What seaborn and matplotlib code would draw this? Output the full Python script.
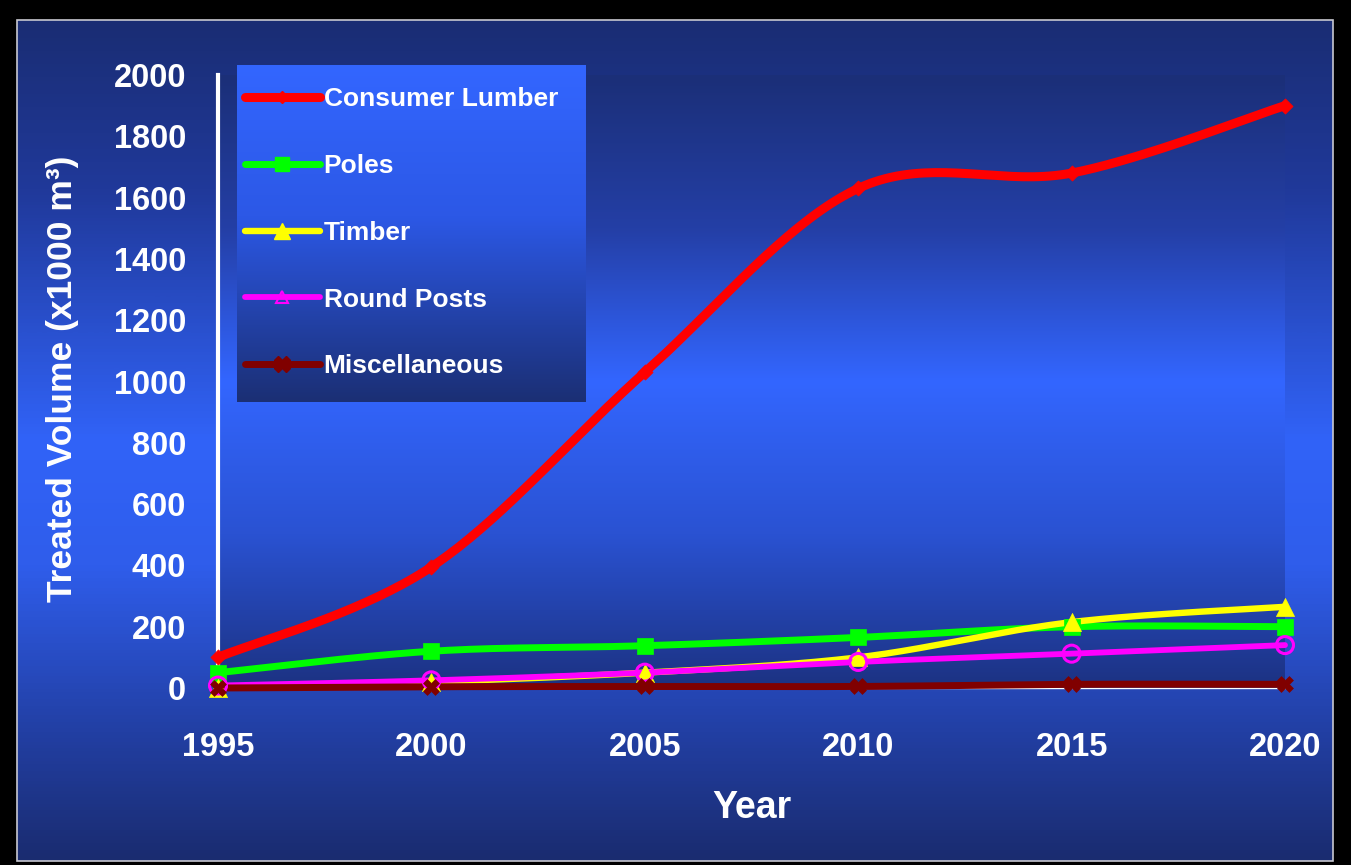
import numpy as np
import pandas as pd
import matplotlib
matplotlib.use("Agg")
import matplotlib.pyplot as plt
import seaborn as sns
from matplotlib.colors import LinearSegmentedColormap
from matplotlib.lines import Line2D
from matplotlib.patches import Rectangle

# ---------------- data ----------------
years = [1995, 2000, 2005, 2010, 2015, 2020]
consumer_lumber = [100, 395, 1030, 1630, 1680, 1900]
poles = [50, 120, 138, 165, 200, 200]
timber = [0, 20, 50, 100, 215, 265]
round_posts = [8, 25, 50, 85, 112, 140]
miscellaneous = [0, 4, 5, 5, 12, 12]

series_names = ["Consumer Lumber", "Poles", "Timber", "Round Posts", "Miscellaneous"]
series_values = [consumer_lumber, poles, timber, round_posts, miscellaneous]
series_colors = ["#ff0000", "#00ff00", "#ffff00", "#ff00ff", "#800000"]
y_ticks = [0, 200, 400, 600, 800, 1000, 1200, 1400, 1600, 1800, 2000]
x_ticks = [1995, 2000, 2005, 2010, 2015, 2020]


def catmull_rom(xs, ys, n=40):
    xs = np.asarray(xs, float)
    ys = np.asarray(ys, float)
    px = np.concatenate([[xs[0]], xs, [xs[-1]]])
    py = np.concatenate([[ys[0]], ys, [ys[-1]]])
    ox, oy = [], []
    t = np.linspace(0, 1, n)
    for i in range(1, len(px) - 2):
        for arr, out in ((px, ox), (py, oy)):
            p0, p1, p2, p3 = arr[i - 1], arr[i], arr[i + 1], arr[i + 2]
            m1 = (p2 - p0) / 2.0
            m2 = (p3 - p1) / 2.0
            h00 = 2 * t**3 - 3 * t**2 + 1
            h10 = t**3 - 2 * t**2 + t
            h01 = -2 * t**3 + 3 * t**2
            h11 = t**3 - t**2
            seg = h00 * p1 + h10 * m1 + h01 * p2 + h11 * m2
            out.extend(seg if i == 1 else seg[1:])
    return np.array(ox), np.array(oy)


rows = []
for name, vals in zip(series_names, series_values):
    sx, sy = catmull_rom(years, vals)
    for a, b in zip(sx, sy):
        rows.append({"Year": a, "Volume": b, "Series": name})
smooth_df = pd.DataFrame(rows)
point_df = pd.DataFrame({
    "Year": np.tile(years, len(series_names)),
    "Volume": np.concatenate(series_values),
    "Series": np.repeat(series_names, len(years)),
})

# ---------------- style ----------------
sns.set_style("white")
plt.rcParams["font.family"] = ["Liberation Sans", "DejaVu Sans"]
plt.rcParams["font.weight"] = "bold"

W, H = 1351, 865
fig = plt.figure(figsize=(W / 100, H / 100), dpi=100)
fig.patch.set_facecolor("black")

# background panel with gradient
bg = fig.add_axes([0, 0, 1, 1])
bg.set_xlim(0, W)
bg.set_ylim(H, 0)
bg.axis("off")
bg_cmap = LinearSegmentedColormap.from_list(
    "bg", [(0.0, "#1a2d74"), (0.2, "#20399a"), (0.5, "#3163f8"),
           (0.65, "#2f5deb"), (0.85, "#223fa3"), (1.0, "#1a2c70")])
grad = np.linspace(0, 1, 256).reshape(-1, 1)
bg.imshow(grad, cmap=bg_cmap, extent=(17, 1333, 861, 20), aspect="auto",
          origin="upper", interpolation="bicubic")
bg.add_patch(Rectangle((17, 20), 1316, 841, fill=False, edgecolor="#c8c8d0", lw=1.2))

# main axes
ax = fig.add_axes([218 / W, 1 - 688 / H, (1285 - 218) / W, (688 - 75) / H])
ax.set_facecolor("none")
ax_cmap = LinearSegmentedColormap.from_list(
    "axbg", [(0.0, "#1b2f78"), (0.25, "#243fa6"), (0.5, "#3366ff"),
             (0.75, "#2a52d2"), (1.0, "#1c3282")])
ax.imshow(grad, cmap=ax_cmap, extent=(0, 1, 0, 1), transform=ax.transAxes,
          aspect="auto", origin="upper", zorder=0, interpolation="bicubic")

widths = [6.5, 5.0, 4.6, 4.2, 5.0]
markers = ["D", "s", "^", "o", "X"]
msizes = [60, 120, 170, 150, 130]
for name, col, lw, mk, ms in zip(series_names, series_colors, widths, markers, msizes):
    sub = smooth_df[smooth_df["Series"] == name]
    sns.lineplot(data=sub, x="Year", y="Volume", color=col, linewidth=lw,
                 sort=False, estimator=None, ax=ax, zorder=3, legend=False)
    pts = point_df[point_df["Series"] == name]
    if mk == "o":
        sns.scatterplot(data=pts, x="Year", y="Volume", marker=mk, s=ms,
                        facecolor="none", edgecolor=col, linewidth=2.2,
                        ax=ax, zorder=4, legend=False)
    else:
        sns.scatterplot(data=pts, x="Year", y="Volume", marker=mk, s=ms,
                        color=col, edgecolor=col, linewidth=0.5,
                        ax=ax, zorder=4, legend=False)
for c in ax.collections:
    c.set_clip_on(False)
for l in ax.lines:
    l.set_clip_on(False)

ax.set_xlim(1995, 2020)
ax.set_ylim(0, 2000)
ax.set_xticks(x_ticks)
ax.set_yticks(y_ticks)
ax.set_xlabel("")
ax.set_ylabel("")
for s in ["top", "right"]:
    ax.spines[s].set_visible(False)
ax.spines["left"].set_color("white")
ax.spines["left"].set_linewidth(3)
ax.spines["bottom"].set_color("white")
ax.spines["bottom"].set_linewidth(1)
ax.spines["left"].set_zorder(2)
ax.tick_params(axis="y", colors="white", direction="out", length=11, width=2.5,
               pad=12, labelsize=23.5)
ax.tick_params(axis="x", colors="white", direction="out", length=8, width=1,
               pad=24, labelsize=23.5)
for lab in ax.get_xticklabels() + ax.get_yticklabels():
    lab.set_fontweight("bold")

fig.text(752 / W, 1 - 808 / H, "Year", color="white", fontsize=27,
         fontweight="bold", ha="center", va="center")
fig.text(63 / W, 1 - 602 / H, "Treated Volume (x1000 m³)", color="white",
         fontsize=25.5, fontweight="bold", ha="center", va="bottom", rotation=90)

# legend with gradient box
lg = fig.add_axes([237 / W, 1 - 402 / H, (586 - 237) / W, (402 - 65) / H])
lg.axis("off")
lg_cmap = LinearSegmentedColormap.from_list(
    "lg", [(0.0, "#3366ff"), (0.45, "#2c58e6"), (1.0, "#1b2f74")])
lg.imshow(grad, cmap=lg_cmap, extent=(0, 1, 0, 1), transform=lg.transAxes,
          aspect="auto", origin="upper", interpolation="bicubic")
handles = []
for name, col, lw, mk in zip(series_names, series_colors, widths, markers):
    if mk == "o":
        h = Line2D([], [], color=col, lw=lw, marker="^", markersize=8,
                   markerfacecolor="none", markeredgecolor=col, markeredgewidth=1.5)
    else:
        h = Line2D([], [], color=col, lw=lw, marker=mk,
                   markersize={"D": 6, "s": 10, "^": 12, "X": 11}[mk])
    handles.append(h)
leg = lg.legend(handles, series_names, loc="upper left", bbox_to_anchor=(-0.008, 0.965),
                frameon=False, fontsize=19, handlelength=2.84, handletextpad=0.15,
                labelspacing=1.62, borderaxespad=0.0, borderpad=0.4)
for t in leg.get_texts():
    t.set_color("white")
    t.set_fontweight("bold")

fig.savefig("out.png", dpi=100, facecolor="black")
